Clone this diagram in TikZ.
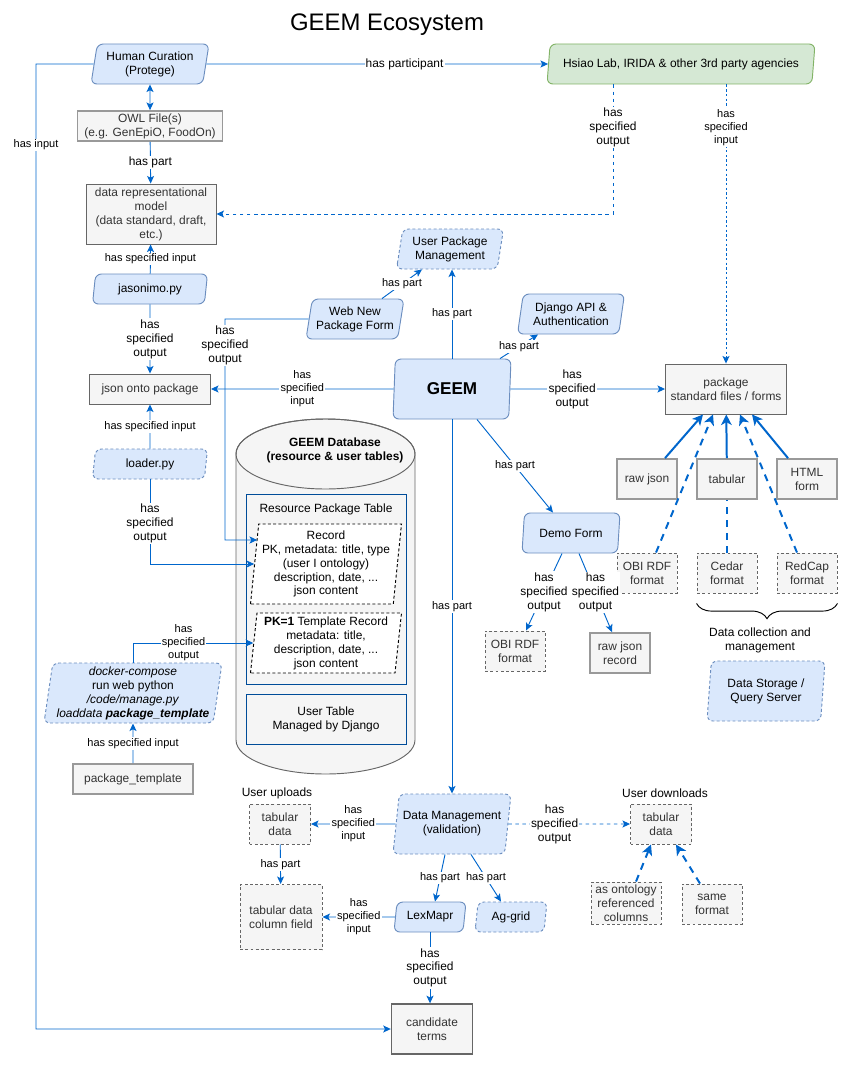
\documentclass[tikz,border=0pt]{standalone}
\usepackage{fontspec}
\setmainfont{Liberation Sans}
\usepackage{xcolor}
\usetikzlibrary{arrows.meta,positioning,calc,shapes.geometric,decorations.pathreplacing}
\definecolor{bfill}{HTML}{DAE8FC}
\definecolor{bdraw}{HTML}{6C8EBF}
\definecolor{gfill}{HTML}{F5F5F5}
\definecolor{gdraw}{HTML}{666666}
\definecolor{gline}{HTML}{999999}
\definecolor{gtext}{HTML}{333333}
\definecolor{grfill}{HTML}{D5E8D4}
\definecolor{grdraw}{HTML}{82B366}
\definecolor{eblue}{HTML}{0066CC}
\definecolor{tblue}{HTML}{004C99}
\newcommand{\boxfont}{\fontsize{10.2}{11.9}\selectfont}
\newcommand{\edgefont}{\fontsize{9.4}{11}\selectfont}
\newcommand{\geemfont}{\fontsize{14.6}{17}\selectfont\bfseries}

\begin{document}
\begin{tikzpicture}[x=0.03cm, y=-0.03cm, font=\boxfont,
    wh/.style 2 args={minimum width=#1*0.03cm, minimum height=#2*0.03cm},
    para/.style={trapezium, trapezium left angle=77, trapezium right angle=103, trapezium stretches body,
        rounded corners=5pt, draw=bdraw, fill=bfill, line width=0.8pt, align=center, inner sep=1pt},
    parab/.style={para, trapezium left angle=81, trapezium right angle=99},
    parad/.style={para, dash pattern=on 2.5pt off 2pt},
    paradb/.style={parab, dash pattern=on 2.5pt off 2pt},
    gbox/.style={draw=gdraw, fill=gfill, text=gtext, line width=0.8pt, align=center, inner sep=1pt},
    gboxt/.style={gbox, draw=gline, line width=1.5pt},
    gboxd/.style={gbox, dash pattern=on 2.5pt off 2pt},
    recbox/.style={trapezium, trapezium left angle=83, trapezium right angle=97, trapezium stretches body,
        draw=black, fill=white, dash pattern=on 2.5pt off 2pt, line width=0.8pt, align=center, inner sep=0pt},
    tbl/.style={draw=tblue, fill=gfill, line width=0.8pt, align=center},
    arr/.style={draw=eblue, line width=0.8pt, -{Stealth[length=6.5pt, width=6pt, inset=1.5pt]}},
    arrd/.style={arr, dash pattern=on 3pt off 3pt},
    arrdot/.style={arr, dash pattern=on 2pt off 2pt},
    arrt/.style={draw=eblue, line width=1.7pt, -{Stealth[length=9pt, width=9pt, inset=2.5pt]}},
    arrtd/.style={arrt, dash pattern=on 6pt off 5pt},
    lbl/.style={fill=white, font=\edgefont, align=center, inner sep=1pt},
    lblb/.style={fill=white, font=\boxfont, align=center, inner sep=1pt},
]
    \useasboundingbox (0,0) rectangle (847,1065);

    % Title
    \node[font=\fontsize{20.4}{24}\selectfont] (title) at (387,25) {GEEM Ecosystem};

    % Curation column
    \node[para, wh={118}{40}] (human) at (150,64) {Human Curation\\(Protege)};
    \node[para, draw=grdraw, fill=grfill, wh={268}{40}] (hsiao) at (681,64) {Hsiao Lab, IRIDA \& other 3rd party agencies};
    \node[gboxt, wh={145}{30}] (owl) at (150,126) {OWL File(s)\\(e.g. GenEpiO, FoodOn)};
    \node[gbox, wh={130}{60}] (drm) at (151,214) {data representational\\model\\(data standard, draft,\\etc.)};
    \node[para, wh={115}{30}] (jas) at (150,289) {jasonimo.py};
    \node[gbox, wh={121}{30}] (jop) at (150,389) {json onto package};
    \node[parad, wh={115}{30}] (loader) at (150,464) {loader.py};
    \node[paradb, wh={178}{60}] (docker) at (133,693) {\textit{docker-compose}\\run web python\\\textit{/code/manage.py}\\\textit{loaddata \textbf{package\_template}}};
    \node[gboxt, wh={120}{30}] (ptmpl) at (133,779) {package\_template};

    % GEEM and its parts
    \node[para, wh={98}{40}] (webform) at (355,319) {Web New\\Package Form};
    \node[parad, wh={107}{40}] (upm) at (450,249) {User Package\\Management};
    \node[para, wh={107}{40}] (django) at (571,314) {Django API \&\\Authentication};
    \node[parab, wh={118}{60}, font=\geemfont] (geem) at (452,389) {GEEM};
    \node[para, wh={98}{40}] (demo) at (571,533) {Demo Form};
    \node[gboxd, wh={60}{40}] (obi2) at (515,651) {OBI RDF\\format};
    \node[gboxt, wh={60}{40}] (rawrec) at (620,653) {raw json\\record};

    % Package formats
    \node[gbox, wh={121}{50}] (pkg) at (726,389) {package\\standard files / forms};
    \node[gboxt, wh={60}{40}] (rawjson) at (647,479) {raw json};
    \node[gboxt, wh={60}{40}] (tabular) at (727,479) {tabular};
    \node[gboxt, wh={60}{40}] (html) at (807,479) {HTML\\form};
    \node[gboxd, wh={60}{40}] (obi) at (647,573) {OBI RDF\\format};
    \node[gboxd, wh={60}{40}] (cedar) at (727,573) {Cedar\\format};
    \node[gboxd, wh={60}{40}] (redcap) at (807,573) {RedCap\\format};
    \node[align=center] (dcm) at (760,640) {Data collection and\\management};
    \node[paradb, wh={118}{60}] (dsqs) at (766,691) {Data Storage /\\Query Server};

    % Database
    \filldraw[fill=gfill, draw=gdraw, line width=0.8pt] (236,454) -- (236,740)
        arc[start angle=180, end angle=0, x radius=89.5, y radius=34] -- (415,454)
        arc[start angle=0, end angle=-180, x radius=89.5, y radius=35] -- cycle;
    \draw[draw=gdraw, line width=0.8pt] (325.5,454) ellipse [x radius=89.5, y radius=35];
    \node[font=\boxfont\bfseries, align=center] (dbtitle) at (335,450) {GEEM Database\\(resource \& user tables)};
    \node[tbl, wh={160}{190}] (restbl) at (326,589) {};
    \node (restitle) at (326,509) {Resource Package Table};
    \node[recbox, wh={151}{80}] (record) at (326,564) {Record\\PK, metadata: title, type\\(user I ontology)\\description, date, ...\\json content};
    \node[recbox, wh={151}{60}] (tmpl) at (326,643) {\textbf{PK=1} Template Record\\metadata: title,\\description, date, ...\\json content};
    \node[tbl, wh={160}{50}] (usertbl) at (326,719) {User Table\\Managed by Django};

    % Data management
    \node[parad, wh={118}{60}] (dm) at (452,824) {Data Management\\(validation)};
    \node (upl) at (277,793) {User uploads};
    \node[gboxd, wh={61}{40}] (tabup) at (280,824) {tabular\\data};
    \node[gboxd, wh={82}{65}] (colfield) at (281,917) {tabular data\\column field};
    \node[para, wh={72}{30}] (lexmapr) at (430,917) {LexMapr};
    \node[parad, wh={72}{30}] (aggrid) at (511,917) {Ag-grid};
    \node[gbox, line width=1.2pt, wh={81}{50}] (cand) at (432,1029) {candidate\\terms};
    \node (dnl) at (665,793) {User downloads};
    \node[gboxd, wh={61}{40}] (tabdown) at (661,824) {tabular\\data};
    \node[gboxd, inner sep=0pt, wh={70}{42}] (ontology) at (626,903) {as ontology\\referenced\\columns};
    \node[gboxd, wh={60}{40}] (same) at (712,904) {same\\format};

    % Connectors
    \coordinate (hin) at (36,64);
    \coordinate (wfb) at (225,319);
    \coordinate (rec1) at ($(record.west)+(3,-24)$);
    \draw[arr] (human) -- node[lblb, pos=0.58] {has participant} (hsiao);
    \draw[arr] (human.west) -- (hin) -- node[lbl, pos=0.084] {has input} (hin |- cand) -- (cand);
    \draw[draw=eblue, line width=0.8pt, {Stealth[length=6.5pt, width=6pt, inset=1.5pt]}-{Stealth[length=6.5pt, width=6pt, inset=1.5pt]}] (human) -- (owl);
    \draw[arr] (owl) -- node[lblb] {has part} (drm);
    \draw[arrd] ($(hsiao.south)+(-68,0)$) |- node[lblb, pos=0.165] {has\\specified\\output} (drm.east);
    \draw[arrdot] (pkg.north |- hsiao.south) -- node[lbl, pos=0.154] {has\\specified\\input} (pkg.north);
    \draw[arr] (jas) -- node[lbl] {has specified input} (drm);
    \draw[arr] (jas) -- node[lblb] {has\\specified\\output} (jop);
    \draw[arr] (loader) -- node[lbl] {has specified input} (jop);
    \draw[arr] (loader) |- node[lblb, pos=0.26] {has\\specified\\output} (record.west);
    \draw[arr] (webform.west) -- (wfb) -- node[lblb, pos=0.12] {has\\specified\\output} (wfb |- rec1) -- (rec1);
    \draw[arr] (docker.north) |- node[lbl, pos=0.71] {has\\specified\\output} (tmpl.west);
    \draw[arr] (ptmpl) -- node[lbl] {has specified input} (docker);
    \draw[arr] (geem.north) -- node[lbl] {has part} (geem.north |- upm.south);
    \draw[arr] ($(webform.north)+(27,0)$) -- node[lbl] {has part} ($(upm.south)+(-28,0)$);
    \draw[arr] ($(geem.north)+(48,0)$) -- node[lbl] {has part} ($(django.south)+(-33,0)$);
    \draw[arr] (geem.west) -- node[lbl] {has\\specified\\input} (jop.east);
    \draw[arr] (geem.east) -- node[lblb, pos=0.4] {has\\specified\\output} (pkg.west);
    \draw[arr] ($(geem.south)+(25,0)$) -- node[lbl] {has part} ($(demo.north)+(-18,0)$);
    \draw[arr] (geem.south) -- node[lbl] {has part} (geem.south |- dm.north);
    \draw[arrt] ($(rawjson.north)+(18,0)$) -- ($(pkg.south)+(-23,0)$);
    \draw[arrtd] ($(obi.north)+(9,0)$) -- ($(pkg.south)+(-13,0)$);
    \draw[arrt] (tabular) -- (pkg);
    \draw[arrtd] ($(redcap.north)+(-10,0)$) -- ($(pkg.south)+(14,0)$);
    \draw[arrt] ($(html.north)+(-19,0)$) -- ($(pkg.south)+(26,0)$);
    \draw[draw=eblue, line width=1.7pt, dash pattern=on 6pt off 5pt] (cedar) -- (tabular);
    \draw[decorate, decoration={brace, amplitude=13pt, mirror}, line width=0.8pt]
        ($(cedar.south west)+(0,10)$) -- ($(redcap.south east)+(0,10)$);
    \draw[arr] ($(demo.south)+(-9,0)$) -- node[lblb] {has\\specified\\output} ($(obi2.north)+(11,0)$);
    \draw[arr] ($(demo.south)+(8,0)$) -- node[lblb] {has\\specified\\output} ($(rawrec.north)+(-8,0)$);
    \draw[arr] (dm.west) -- node[lbl] {has\\specified\\input} (tabup.east);
    \draw[arr] (tabup) -- node[lbl] {has part} (colfield);
    \draw[arr] ($(dm.south)+(-7,0)$) -- node[lbl] {has part} ($(lexmapr.north)+(5,0)$);
    \draw[arr] ($(dm.south)+(19,0)$) -- node[lbl] {has part} ($(aggrid.north)+(-10,0)$);
    \draw[arr] (lexmapr.west) -- node[lbl] {has\\specified\\input} (colfield.east);
    \draw[arr] (lexmapr.south) -- node[lblb] {has\\specified\\output} (lexmapr.south |- cand.north);
    \draw[arrd] (dm.east) -- node[lblb, pos=0.38] {has\\specified\\output} (tabdown.west);
    \draw[arrtd] ($(ontology.north)+(10,0)$) -- ($(tabdown.south)+(-10,0)$);
    \draw[arrtd] ($(same.north)+(-12,0)$) -- ($(tabdown.south)+(15,0)$);
\end{tikzpicture}
\end{document}
